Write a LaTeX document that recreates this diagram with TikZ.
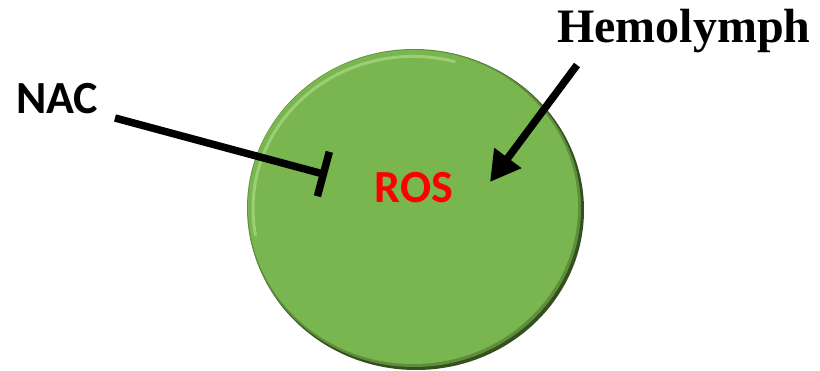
\documentclass[tikz,border=0pt]{standalone}
\usepackage{fontspec}
\setmainfont{Liberation Serif}
\newfontfamily\labelsans{Carlito}
\usetikzlibrary{arrows.meta}
\definecolor{discgreen}{HTML}{7AB650}
\definecolor{discdark}{HTML}{34501F}
\definecolor{discmid}{HTML}{5E8E3C}
\definecolor{disclight}{HTML}{A8D882}
\definecolor{rosred}{HTML}{FF0000}
\tikzset{
  sanslabel/.style={font=\labelsans\bfseries\fontsize{46}{46}\selectfont, inner sep=0pt},
  seriflabel/.style={font=\bfseries\fontsize{48}{48}\selectfont, inner sep=0pt},
  link/.style={line width=7.5pt, draw=black},
}
\begin{document}
\begin{tikzpicture}[x=1pt,y=-1pt]
  \useasboundingbox (0,0) rectangle (820,371);
  % bevelled disc: dark rim (heavier lower right), face, top-left highlight
  \fill[discdark] (416,210) ellipse [x radius=168, y radius=160];
  \fill[discmid] (414,208) ellipse [x radius=167, y radius=159];
  \fill[discgreen] (413,207) ellipse [x radius=165, y radius=157];
  \draw[disclight, line width=3pt, opacity=0.75, line cap=round]
    (413,207) ++(170:160) arc [start angle=170, end angle=285, x radius=160, y radius=152];
  \node[circle, minimum size=1pt, inner sep=0pt] (disc) at (415,209) {};

  % labels
  \node[sanslabel, text=rosred] (ros) at (414,188) {ROS};
  \node[sanslabel, anchor=west] (nac) at (16,99) {NAC};
  \node[seriflabel, anchor=west] (hemo) at (557,31) {Hemolymph};

  % connector ends
  \coordinate (nacStart) at (115,118);
  \coordinate (nacEnd) at (327,175);
  \coordinate (hemoStart) at (577,65);
  \coordinate (hemoEnd) at (490,182);

  % inhibition by NAC, supply from hemolymph
  \draw[link, -{Bar[width=46pt, line width=7.5pt]}] (nacStart) -- (nacEnd);
  \draw[link, -{Triangle[length=30pt, width=32pt]}] (hemoStart) -- (hemoEnd);
\end{tikzpicture}
\end{document}
